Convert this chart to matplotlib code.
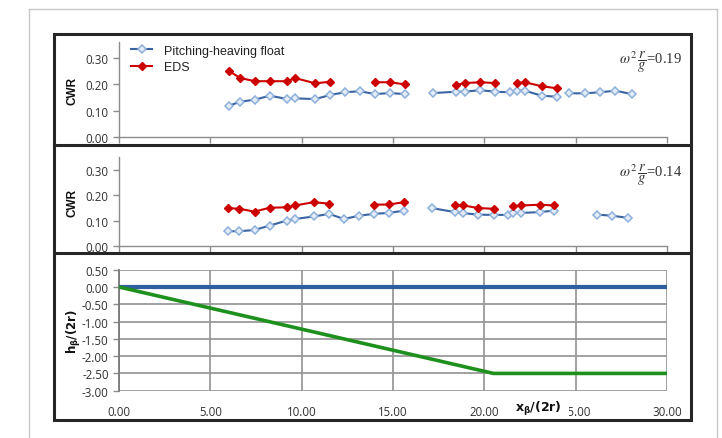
import numpy as np
import matplotlib
matplotlib.use("Agg")
import matplotlib.pyplot as plt
from matplotlib.lines import Line2D
from matplotlib.patches import Rectangle

nan = np.nan

# panel 1 : omega^2 r/g = 0.19
p1_float_x = [6.02, 6.64, 7.44, 8.27, 9.21, 9.63, 10.75, 11.57, 12.37, 13.19, 14.0, 14.83, 15.65, nan,
              17.2, 18.44, 18.94, 19.76, 20.58, 21.40, 21.77, 22.22, 23.13, 23.99, nan,
              24.63, 25.5, 26.33, 27.18, 28.06]
p1_float_y = [0.119, 0.134, 0.142, 0.157, 0.144, 0.147, 0.144, 0.160, 0.170, 0.174, 0.163, 0.167, 0.163, nan,
              0.167, 0.172, 0.172, 0.178, 0.172, 0.170, 0.176, 0.176, 0.157, 0.153, nan,
              0.166, 0.166, 0.170, 0.176, 0.163]
p1_eds_x = [6.02, 6.64, 7.44, 8.27, 9.21, 9.63, 10.75, 11.57, nan, 14.0, 14.83, 15.65, nan,
            18.44, 18.94, 19.76, 20.58, nan, 21.77, 22.22, 23.13, 23.99]
p1_eds_y = [0.251, 0.224, 0.212, 0.212, 0.212, 0.224, 0.204, 0.210, nan, 0.208, 0.208, 0.200, nan,
            0.198, 0.205, 0.208, 0.205, nan, 0.205, 0.208, 0.193, 0.185]

# panel 2 : omega^2 r/g = 0.14
p2_float_x = [5.95, 6.59, 7.42, 8.24, 9.19, 9.63, 10.67, 11.51, 12.31, 13.15, 13.95, 14.79, 15.62, nan,
              17.11, 18.39, 18.85, 19.67, 20.53, 21.3, 21.58, 22.03, 23.07, 23.8, nan,
              26.18, 27.0, 27.88]
p2_float_y = [0.059, 0.059, 0.064, 0.081, 0.101, 0.107, 0.117, 0.127, 0.107, 0.120, 0.127, 0.131, 0.140, nan,
              0.150, 0.134, 0.130, 0.124, 0.123, 0.123, 0.131, 0.131, 0.134, 0.140, nan,
              0.124, 0.120, 0.111]
p2_eds_x = [5.95, 6.59, 7.42, 8.24, 9.19, 9.63, 10.67, 11.51, nan, 13.95, 14.79, 15.62, nan,
            18.39, 18.85, 19.67, 20.53, nan, 21.58, 22.03, 23.07, 23.8]
p2_eds_y = [0.150, 0.147, 0.136, 0.151, 0.153, 0.160, 0.173, 0.167, nan, 0.163, 0.164, 0.173, nan,
            0.163, 0.160, 0.150, 0.147, nan, 0.156, 0.160, 0.163, 0.160]

# panel 3 : depth profile
flat_x = [0.0, 30.0]
flat_y = [0.0, 0.0]
slope_x = [0.0, 20.5, 30.0]
slope_y = [0.0, -2.5, -2.5]

x_ticks = [0, 5, 10, 15, 20, 25, 30]
x_ticklabels = ["0.00", "5.00", "10.00", "15.00", "20.00", "25.00", "30.00"]

W, H = 722, 439
fig = plt.figure(figsize=(W / 100, H / 100), dpi=100)
plt.rcParams['font.family'] = ['Open Sans', 'DejaVu Sans']

AX_COL = "#8c8c8c"
TXT_COL = "#303030"
BLUE = "#3a65a3"
BLUE_FILL = "#e3ecf7"
BLUE_EDGE = "#8fb0da"
RED = "#cc0000"


def pix_axes(x0, y_top, x1, y_bot):
    return fig.add_axes([x0 / W, 1 - y_bot / H, (x1 - x0) / W, (y_bot - y_top) / H])


def style_cwr(ax, ymax):
    ax.set_xlim(0, 30)
    ax.set_ylim(0, ymax)
    ax.set_yticks([0, 0.1, 0.2, 0.3])
    ax.set_yticklabels(["0.00", "0.10", "0.20", "0.30"])
    ax.set_xticks(x_ticks)
    ax.set_xticklabels([])
    for s in ["top", "right"]:
        ax.spines[s].set_visible(False)
    for s in ["left", "bottom"]:
        ax.spines[s].set_color(AX_COL)
        ax.spines[s].set_linewidth(1.0)
    ax.tick_params(axis="both", colors=AX_COL, labelcolor=TXT_COL, labelsize=8.3,
                   length=4, width=1.0, direction="out")
    ax.set_ylabel("CWR", fontsize=8.5, fontweight="bold", color="#111111", labelpad=5,
                  family="Liberation Sans")


def draw_series(ax, fx, fy, ex, ey):
    ax.plot(fx, fy, color=BLUE, lw=1.5, marker="D", ms=4.2, mfc=BLUE_FILL, mec=BLUE_EDGE,
            mew=1.1, label="Pitching-heaving float", zorder=3)
    ax.plot(ex, ey, color=RED, lw=1.5, marker="D", ms=4.2, mfc=RED, mec=RED,
            label="EDS", zorder=4)


ax1 = pix_axes(119, 43, 667, 138)
style_cwr(ax1, 0.361)
draw_series(ax1, p1_float_x, p1_float_y, p1_eds_x, p1_eds_y)
leg = ax1.legend(loc="upper left", bbox_to_anchor=(0.013, 1.025), frameon=False,
                 prop={"family": "Liberation Sans", "size": 9}, handlelength=1.7,
                 handletextpad=0.9, labelspacing=0.38, borderaxespad=0)
for t in leg.get_texts():
    t.set_color("#222222")
ax1.text(1.027, 0.80, r"$\omega^2\,\dfrac{r}{g}$=0.19", transform=ax1.transAxes,
         ha="right", va="center", fontsize=10.5, family="Liberation Serif",
         math_fontfamily="stix", color="#333333")

ax2 = pix_axes(119, 158, 667, 247.3)
style_cwr(ax2, 0.35)
draw_series(ax2, p2_float_x, p2_float_y, p2_eds_x, p2_eds_y)
ax2.text(1.027, 0.81, r"$\omega^2\,\dfrac{r}{g}$=0.14", transform=ax2.transAxes,
         ha="right", va="center", fontsize=10.5, family="Liberation Serif",
         math_fontfamily="stix", color="#333333")

ax3 = pix_axes(119, 270.7, 667, 391.7)
ax3.set_xlim(0, 30)
ax3.set_ylim(-3, 0.5)
ax3.set_xticks(x_ticks)
ax3.set_xticklabels(x_ticklabels)
ax3.set_yticks(np.arange(-3, 0.51, 0.5))
ax3.set_yticklabels([f"{v:.2f}" for v in np.arange(-3, 0.51, 0.5)])
ax3.grid(True, color="#9a9a9a", lw=1.3)
ax3.set_axisbelow(True)
for s in ["top", "right", "bottom"]:
    ax3.spines[s].set_visible(False)
ax3.spines["left"].set_color("#7a7a7a")
ax3.spines["left"].set_linewidth(1.3)
ax3.tick_params(axis="both", colors=AX_COL, labelcolor=TXT_COL, labelsize=8.3,
                length=4, width=1.0, direction="out")
ax3.tick_params(axis="x", length=0, pad=10)
ax3.plot(flat_x, flat_y, color="#2f5f9f", lw=3.0, solid_capstyle="butt", zorder=3)
ax3.plot(slope_x, slope_y, color="#1e901e", lw=2.6, solid_capstyle="butt", zorder=3)
ax3.set_ylabel(r"$\mathbf{h_{\beta}/(2r)}$", fontsize=8.5, color="#111111", labelpad=-1)
ax3.text(538 / W, 1 - 409 / H, r"$\mathbf{x_{\beta}/(2r)}$", transform=fig.transFigure,
         ha="center", va="center", fontsize=9, color="#111111",
         bbox=dict(boxstyle="square,pad=0.58", fc="white", ec="none"), zorder=10)

# outer frames
fig.add_artist(Line2D([29 / W, 29 / W], [0, 1 - 10 / H], transform=fig.transFigure,
                      color="#c8c8c8", lw=1.0))
fig.add_artist(Line2D([29 / W, 717 / W], [1 - 10 / H, 1 - 10 / H], transform=fig.transFigure,
                      color="#c8c8c8", lw=1.0))
fig.add_artist(Line2D([717 / W, 717 / W], [0, 1 - 10 / H], transform=fig.transFigure,
                      color="#c8c8c8", lw=1.0))
fig.add_artist(Rectangle((54 / W, 1 - 421 / H), (691 - 54) / W, (421 - 35) / H,
                         transform=fig.transFigure, fill=False, ec="#262626", lw=2.2))
for yp in [146, 254]:
    fig.add_artist(Line2D([54 / W, 691 / W], [1 - yp / H, 1 - yp / H], transform=fig.transFigure,
                          color="#262626", lw=2.2))

fig.savefig("out.png", dpi=100)
